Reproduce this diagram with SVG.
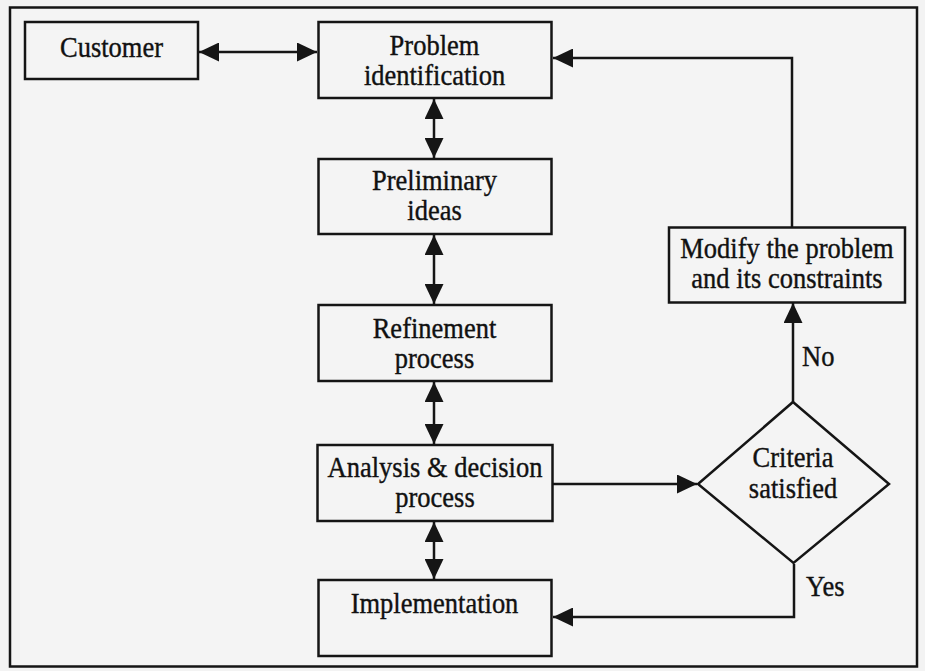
<svg xmlns="http://www.w3.org/2000/svg" width="925" height="671" viewBox="0 0 925 671">
  <style>
    .box { fill: #f4f4f4; stroke: #151515; stroke-width: 2.5; }
    .wire { fill: none; stroke: #151515; stroke-width: 2.5; }
    .lbl { font-family: "Liberation Serif", "Times New Roman", serif; font-size: 26.5px; fill: #111; stroke: #111; stroke-width: 0.35px; text-anchor: middle; }
    .tag { font-family: "Liberation Serif", "Times New Roman", serif; font-size: 26.5px; fill: #111; stroke: #111; stroke-width: 0.35px; text-anchor: start; }
  </style>
  <defs>
    <marker id="head" markerUnits="userSpaceOnUse" markerWidth="21" markerHeight="19" refX="20" refY="9.5" orient="auto-start-reverse" viewBox="0 0 21 19">
      <path d="M0,0 L20,9.5 L0,19 z" fill="#151515"/>
    </marker>
  </defs>

  <!-- page background and frame -->
  <rect x="0" y="0" width="925" height="671" fill="#f3f3f3"/>
  <rect x="10" y="7.5" width="907" height="659" fill="#f4f4f4" stroke="#151515" stroke-width="2.5"/>

  <!-- connectors -->
  <g id="connectors">
    <line class="wire" x1="199" y1="52" x2="317" y2="52" marker-start="url(#head)" marker-end="url(#head)"/>
    <line class="wire" x1="434" y1="99" x2="434" y2="158" marker-start="url(#head)" marker-end="url(#head)"/>
    <line class="wire" x1="434" y1="235" x2="434" y2="304" marker-start="url(#head)" marker-end="url(#head)"/>
    <line class="wire" x1="434" y1="382" x2="434" y2="444" marker-start="url(#head)" marker-end="url(#head)"/>
    <line class="wire" x1="434" y1="522" x2="434" y2="579" marker-start="url(#head)" marker-end="url(#head)"/>
    <line class="wire" x1="553" y1="484" x2="697" y2="484" marker-end="url(#head)"/>
    <line class="wire" x1="793" y1="402" x2="793" y2="303" marker-end="url(#head)"/>
    <polyline class="wire" points="792,227 792,58 553,58" marker-end="url(#head)"/>
    <polyline class="wire" points="794,564 794,617 553,617" marker-end="url(#head)"/>
    <text class="tag" transform="translate(802,366) scale(1,1.12)">No</text>
    <text class="tag" transform="translate(806,596) scale(1,1.12)">Yes</text>
  </g>

  <!-- nodes -->
  <g id="customer">
    <rect class="box" x="25" y="22" width="173" height="57"/>
    <text class="lbl" transform="translate(111.5,57) scale(1,1.12)">Customer</text>
  </g>
  <g id="problem-identification">
    <rect class="box" x="318.5" y="22" width="233" height="76"/>
    <text class="lbl" transform="translate(434.5,55) scale(1,1.12)">Problem</text>
    <text class="lbl" transform="translate(434.5,85) scale(1,1.12)">identification</text>
  </g>
  <g id="preliminary-ideas">
    <rect class="box" x="318.5" y="159" width="233" height="75"/>
    <text class="lbl" transform="translate(434.5,190) scale(1,1.12)">Preliminary</text>
    <text class="lbl" transform="translate(434.5,220) scale(1,1.12)">ideas</text>
  </g>
  <g id="refinement-process">
    <rect class="box" x="318.5" y="305" width="233" height="76"/>
    <text class="lbl" transform="translate(434.5,338) scale(1,1.12)">Refinement</text>
    <text class="lbl" transform="translate(434.5,368) scale(1,1.12)">process</text>
  </g>
  <g id="analysis-decision">
    <rect class="box" x="317.5" y="445" width="235" height="76"/>
    <text class="lbl" transform="translate(435,477) scale(1,1.12)">Analysis &amp; decision</text>
    <text class="lbl" transform="translate(435,507) scale(1,1.12)">process</text>
  </g>
  <g id="implementation">
    <rect class="box" x="318.5" y="580" width="233" height="76"/>
    <text class="lbl" transform="translate(434.5,613) scale(1,1.12)">Implementation</text>
  </g>
  <g id="modify-problem">
    <rect class="box" x="669" y="227.5" width="236" height="75"/>
    <text class="lbl" transform="translate(787,258) scale(1,1.12)">Modify the problem</text>
    <text class="lbl" transform="translate(787,288) scale(1,1.12)">and its constraints</text>
  </g>
  <g id="criteria-satisfied">
    <polygon class="box" points="793,402 889,484 793.5,563 698,484"/>
    <text class="lbl" transform="translate(793,467) scale(1,1.12)">Criteria</text>
    <text class="lbl" transform="translate(793,498) scale(1,1.12)">satisfied</text>
  </g>
</svg>
